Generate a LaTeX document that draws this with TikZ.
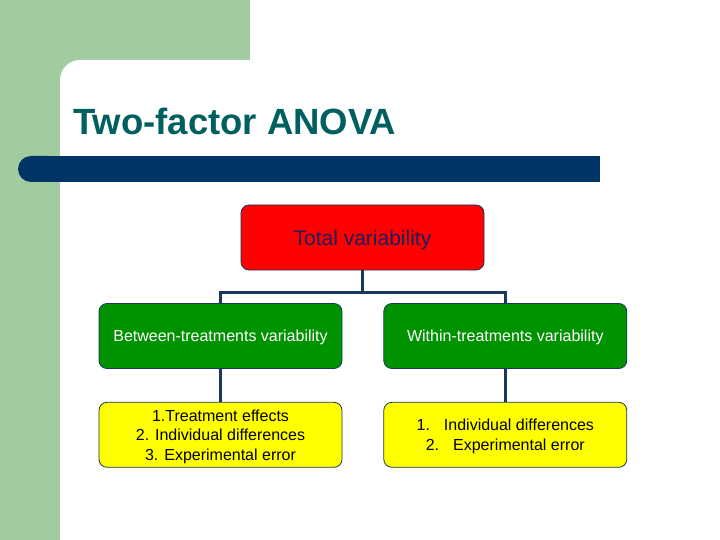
\documentclass[tikz,border=0pt]{standalone}
\usepackage{fontspec}
\setmainfont{Liberation Sans}
\usetikzlibrary{positioning}

\definecolor{bggreen}{RGB}{160,204,160}
\definecolor{barblue}{RGB}{0,51,102}
\definecolor{titleteal}{RGB}{0,95,95}
\definecolor{linenavy}{RGB}{25,55,95}
\definecolor{boxred}{RGB}{255,0,0}
\definecolor{boxgreen}{RGB}{0,146,0}
\definecolor{boxyellow}{RGB}{255,255,0}
\definecolor{textnavy}{RGB}{30,30,90}

\begin{document}
\begin{tikzpicture}[x=1pt, y=-1pt,
    box/.style={draw=linenavy, line width=0.8pt, rectangle, rounded corners=8pt, minimum width=243pt, minimum height=65pt, align=center, text depth=0pt, font=\fontsize{16}{19.5}\selectfont},
    conn/.style={draw=linenavy, line width=3pt}]
  % background
  \useasboundingbox (0,0) rectangle (720,540);
  \fill[white] (0,0) rectangle (720,540);
  \fill[bggreen] (0,0) rectangle (250,100);
  \fill[bggreen] (0,0) rectangle (60,540);
  \fill[white, rounded corners=20pt] (60,60) rectangle (720,540);
  \fill[barblue, rounded corners=13pt] (18,156) rectangle (60,182);
  \fill[barblue] (40,156) rectangle (600,182);

  % title
  \node[anchor=base west, text=titleteal, font=\fontsize{36.5}{40}\selectfont\bfseries, inner sep=0pt] (title) at (73,135) {Two-factor ANOVA};

  % nodes
  \node[box, fill=boxred, text=textnavy, font=\fontsize{21}{24}\selectfont] (total) at (362.5,237.5) {Total variability};
  \node[box, fill=boxgreen, text=white] (between) at (220.5,336) {Between-treatments variability};
  \node[box, fill=boxgreen, text=white, right=41pt of between] (within) {Within-treatments variability};
  \node[box, fill=boxyellow, below=33pt of between] (betweensrc) {1.Treatment effects\\2. Individual differences\\3. Experimental error};
  \node[box, fill=boxyellow, below=33pt of within] (withinsrc) {1.\hspace{14pt}Individual differences\\2.\hspace{14pt}Experimental error};

  % connectors
  \draw[conn] (total.south) -- ++(0,22) -| (between.north);
  \draw[conn] (total.south) -- ++(0,22) -| (within.north);
  \draw[conn] (between.south) -- (betweensrc.north);
  \draw[conn] (within.south) -- (withinsrc.north);
\end{tikzpicture}
\end{document}
